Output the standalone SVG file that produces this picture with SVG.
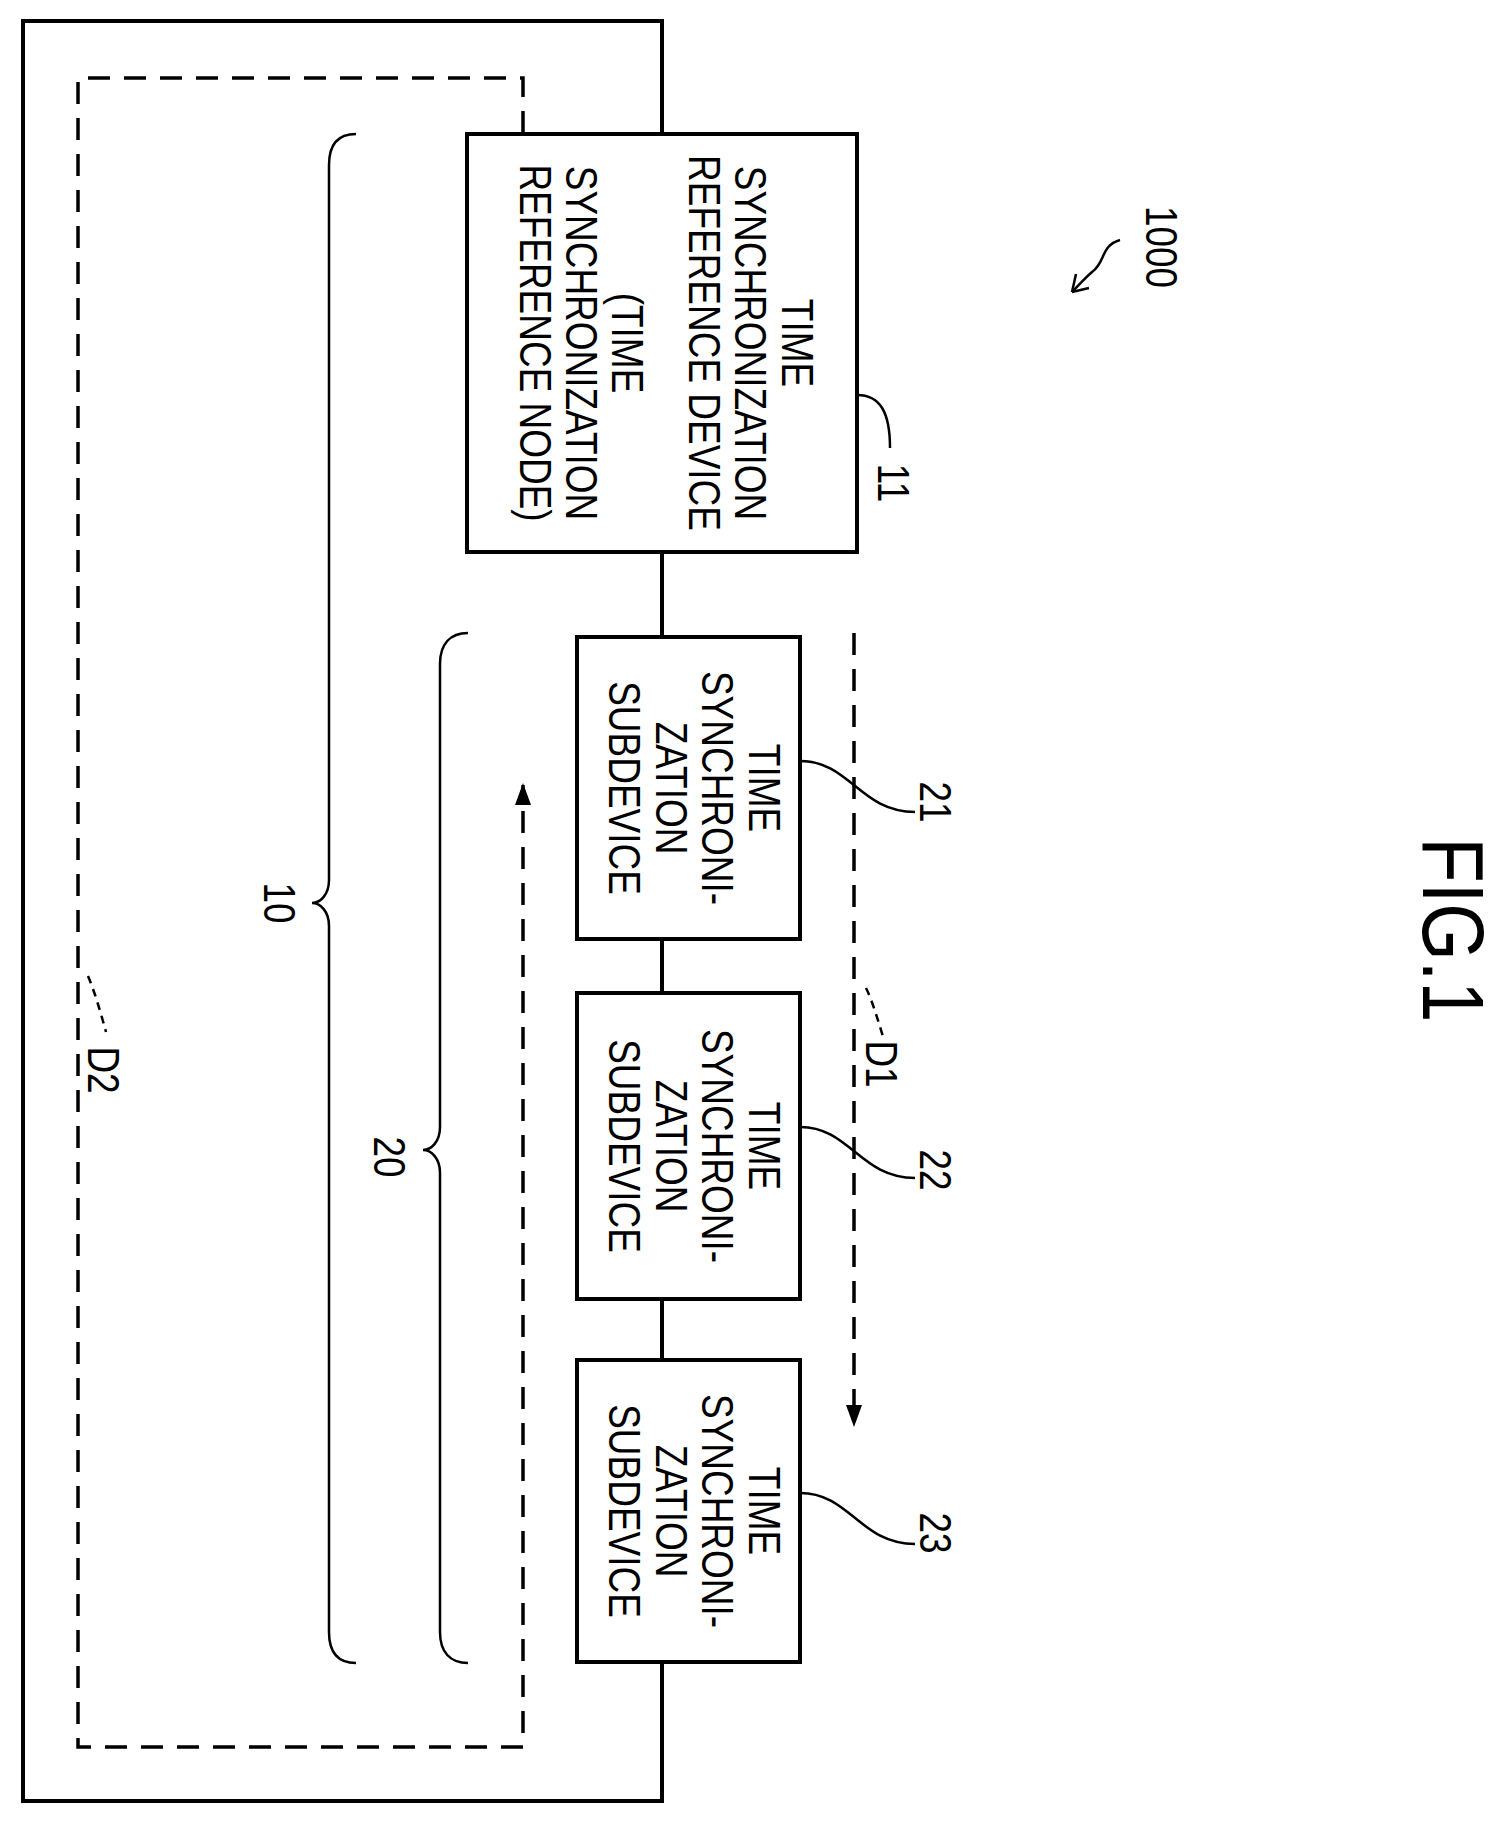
<svg xmlns="http://www.w3.org/2000/svg" width="1510" height="1825" viewBox="0 0 1510 1825">
<style>
.box{fill:#fff;stroke:#000;stroke-width:4}
.ln{fill:none;stroke:#000;stroke-width:4}
.thin{fill:none;stroke:#000;stroke-width:2.5}
.dash{fill:none;stroke:#000;stroke-width:3.5;stroke-dasharray:22 14}
.sdash{fill:none;stroke:#000;stroke-width:2.5;stroke-dasharray:8 6}
text{font-family:"Liberation Sans",Arial,sans-serif;font-size:44px;fill:#000;text-anchor:middle}
</style>
<defs>
<marker id="ah" markerUnits="userSpaceOnUse" markerWidth="24" markerHeight="18" refX="20" refY="9" orient="auto">
<path d="M0,1 L22,9 L0,17 Z" fill="#000"/>
</marker>
</defs>
<rect width="1510" height="1825" fill="#fff"/>
<g id="connectors">
<path class="ln" d="M662,133 V21 H23 V1801 H662 V1662"/>
<path class="ln" d="M662,552 V637 M662,939 V993 M662,1299 V1360"/>
<path class="dash" d="M523,133 V78 H78 V1747 H523 V785" marker-end="url(#ah)"/>
<path class="dash" d="M854,633 V1425" marker-end="url(#ah)"/>
<path class="thin" d="M857,395 C880,395 890,412 890,448"/>
<path class="thin" d="M800,761 C850,761 860,812 915,812"/>
<path class="thin" d="M800,1127 C850,1127 860,1178 915,1178"/>
<path class="thin" d="M800,1493 C850,1493 860,1544 915,1544"/>
<path class="thin" d="M1120,240 C1100,246 1106,262 1092,272 C1085,278 1079,285 1072,292"/>
<path class="thin" d="M1072,292 L1076,274 M1072,292 L1089,288"/>
<path class="sdash" d="M866,988 C872,1000 878,1020 884,1040"/>
<path class="sdash" d="M88,976 C94,990 100,1010 106,1032"/>
<path class="thin" d="M356,134 C338,134 329,145 329,165 L329,880 C329,895 320,903 312,903 C320,903 329,911 329,926 L329,1632 C329,1652 338,1663 356,1663"/>
<path class="thin" d="M468,633 C450,633 440,644 440,664 L440,1127 C440,1142 431,1150 423,1150 C431,1150 440,1158 440,1173 L440,1632 C440,1652 450,1663 468,1663"/>
</g>
<g id="n11">
<rect class="box" x="467" y="134" width="390" height="418"/>
<text transform="translate(782,343) rotate(90) scale(0.84,1)">TIME</text>
<text transform="translate(735,343) rotate(90) scale(0.84,1)">SYNCHRONIZATION</text>
<text transform="translate(689,343) rotate(90) scale(0.84,1)">REFERENCE DEVICE</text>
<text transform="translate(612,343) rotate(90) scale(0.84,1)">(TIME</text>
<text transform="translate(566,343) rotate(90) scale(0.84,1)">SYNCHRONIZATION</text>
<text transform="translate(520,343) rotate(90) scale(0.84,1)">REFERENCE NODE)</text>
<text transform="translate(878,483) rotate(90) scale(0.84,1)">11</text>
</g>
<g id="n21">
<rect class="box" x="577" y="637" width="223" height="302"/>
<text transform="translate(749,788) rotate(90) scale(0.84,1)">TIME</text>
<text transform="translate(702,788) rotate(90) scale(0.84,1)">SYNCHRONI-</text>
<text transform="translate(656,788) rotate(90) scale(0.84,1)">ZATION</text>
<text transform="translate(609,788) rotate(90) scale(0.84,1)">SUBDEVICE</text>
<text transform="translate(920,802) rotate(90) scale(0.84,1)">21</text>
</g>
<g id="n22">
<rect class="box" x="577" y="993" width="223" height="306"/>
<text transform="translate(749,1146) rotate(90) scale(0.84,1)">TIME</text>
<text transform="translate(702,1146) rotate(90) scale(0.84,1)">SYNCHRONI-</text>
<text transform="translate(656,1146) rotate(90) scale(0.84,1)">ZATION</text>
<text transform="translate(609,1146) rotate(90) scale(0.84,1)">SUBDEVICE</text>
<text transform="translate(920,1170) rotate(90) scale(0.84,1)">22</text>
</g>
<g id="n23">
<rect class="box" x="577" y="1360" width="223" height="302"/>
<text transform="translate(749,1511) rotate(90) scale(0.84,1)">TIME</text>
<text transform="translate(702,1511) rotate(90) scale(0.84,1)">SYNCHRONI-</text>
<text transform="translate(656,1511) rotate(90) scale(0.84,1)">ZATION</text>
<text transform="translate(609,1511) rotate(90) scale(0.84,1)">SUBDEVICE</text>
<text transform="translate(920,1533) rotate(90) scale(0.84,1)">23</text>
</g>
<g id="labels">
<text transform="translate(1146,247) rotate(90) scale(0.84,1)">1000</text>
<text transform="translate(264,903) rotate(90) scale(0.84,1)">10</text>
<text transform="translate(374,1157) rotate(90) scale(0.84,1)">20</text>
<text transform="translate(866,1064) rotate(90) scale(0.84,1)">D1</text>
<text transform="translate(88,1070) rotate(90) scale(0.84,1)">D2</text>
<text transform="translate(1423,930) rotate(90) scale(0.84,1)" style="font-size:88px">FIG.1</text>
</g>
</svg>
